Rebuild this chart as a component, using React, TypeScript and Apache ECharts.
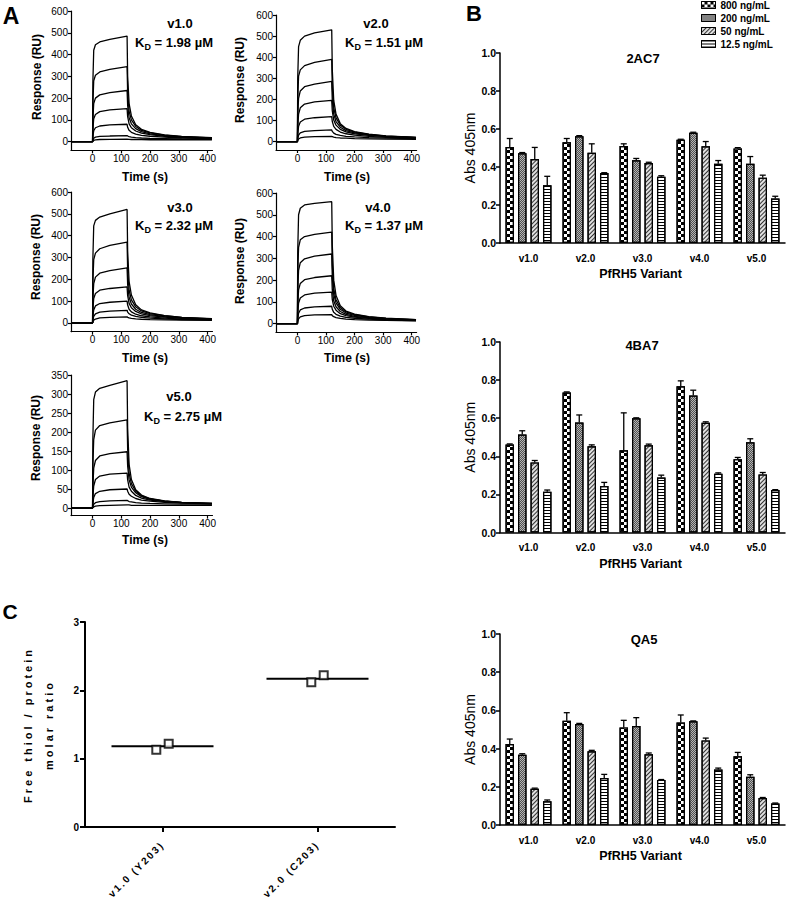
import React, { useEffect, useRef } from 'react';
import * as echarts from 'echarts';

const FONT = 'Liberation Sans, Arial, Helvetica, sans-serif';

// ---------------- Panel A : SPR sensorgrams ----------------
const SPR_TIME = [-75, 0, 1, 4, 10, 25, 60, 120, 122, 127, 135, 150, 170, 200, 250, 310, 415];

const SPR_V1 = [
  [0, 0, 270, 420, 445, 458, 470, 485, 300, 175, 118, 78, 57, 43, 31, 24, 18],
  [0, 0, 170, 280, 305, 320, 332, 345, 225, 140, 100, 70, 52, 40, 30, 23, 17],
  [0, 0, 100, 175, 200, 215, 225, 235, 165, 110, 82, 60, 46, 36, 28, 22, 16],
  [0, 0, 55, 105, 125, 138, 146, 152, 115, 82, 64, 49, 39, 32, 25, 20, 15],
  [0, 0, 25, 50, 64, 72, 77, 80, 66, 52, 43, 35, 29, 25, 21, 17, 14],
  [0, 0, 8, 16, 21, 24, 26, 28, 26, 23, 21, 19, 17, 15, 14, 13, 12],
  [0, 0, 3, 6, 8, 10, 11, 12, 11, 11, 10, 10, 10, 9, 9, 9, 9],
];
const SPR_V2 = [
  [0, 0, 300, 450, 480, 500, 515, 530, 340, 195, 130, 85, 62, 47, 35, 27, 20],
  [0, 0, 200, 310, 340, 360, 375, 390, 255, 160, 112, 78, 58, 45, 34, 26, 20],
  [0, 0, 125, 205, 240, 260, 272, 285, 195, 130, 95, 68, 52, 41, 32, 25, 19],
  [0, 0, 70, 130, 160, 178, 188, 195, 145, 102, 78, 58, 46, 37, 29, 23, 18],
  [0, 0, 35, 72, 93, 106, 113, 118, 95, 72, 58, 45, 37, 31, 25, 20, 16],
  [0, 0, 14, 30, 41, 48, 52, 55, 48, 40, 34, 29, 25, 22, 19, 16, 14],
  [0, 0, 5, 12, 17, 21, 23, 25, 23, 21, 19, 17, 16, 14, 13, 12, 11],
];
const SPR_V3 = [
  [0, 0, 290, 445, 470, 485, 500, 520, 330, 190, 128, 83, 60, 46, 34, 26, 20],
  [0, 0, 185, 290, 320, 340, 355, 370, 240, 150, 106, 74, 55, 43, 33, 25, 19],
  [0, 0, 110, 180, 210, 228, 240, 252, 175, 118, 87, 63, 48, 38, 29, 23, 17],
  [0, 0, 60, 112, 135, 150, 158, 165, 125, 90, 70, 53, 42, 34, 27, 21, 16],
  [0, 0, 30, 60, 78, 89, 95, 100, 82, 63, 51, 40, 33, 28, 22, 18, 15],
  [0, 0, 14, 30, 42, 50, 54, 58, 50, 42, 36, 30, 26, 22, 19, 16, 14],
  [0, 0, 6, 13, 18, 23, 26, 28, 26, 23, 21, 19, 17, 15, 14, 13, 12],
];
const SPR_V4 = [
  [0, 0, 330, 500, 530, 545, 552, 560, 360, 200, 130, 82, 58, 44, 32, 25, 19],
  [0, 0, 230, 350, 385, 400, 410, 420, 270, 160, 110, 74, 54, 41, 31, 24, 18],
  [0, 0, 150, 245, 280, 298, 310, 320, 215, 135, 96, 66, 49, 38, 29, 23, 17],
  [0, 0, 85, 155, 185, 202, 212, 220, 155, 105, 78, 56, 43, 34, 27, 21, 16],
  [0, 0, 45, 95, 118, 132, 140, 145, 110, 80, 62, 46, 37, 30, 24, 19, 15],
  [0, 0, 20, 48, 63, 72, 77, 80, 66, 52, 43, 35, 29, 25, 21, 17, 14],
  [0, 0, 9, 22, 31, 37, 40, 42, 37, 32, 28, 24, 21, 19, 17, 15, 13],
];
const SPR_V5 = [
  [0, 0, 180, 285, 305, 315, 323, 335, 210, 115, 75, 48, 34, 25, 19, 15, 12],
  [0, 0, 110, 180, 205, 217, 224, 232, 155, 92, 64, 44, 32, 24, 18, 15, 12],
  [0, 0, 55, 105, 125, 137, 143, 148, 110, 74, 55, 40, 30, 23, 18, 14, 12],
  [0, 0, 28, 58, 75, 84, 89, 92, 74, 55, 44, 33, 26, 21, 17, 14, 11],
  [0, 0, 12, 28, 38, 44, 48, 50, 44, 36, 31, 25, 21, 18, 15, 13, 11],
  [0, 0, 4, 10, 14, 17, 19, 20, 19, 17, 16, 14, 13, 12, 11, 10, 10],
  [0, 0, 1, 3, 5, 6, 7, 8, 8, 8, 7, 7, 7, 7, 7, 7, 7],
];
const SPR_CURVES = [SPR_V1, SPR_V2, SPR_V3, SPR_V4, SPR_V5];
const SPR_NAMES = ['v1.0', 'v2.0', 'v3.0', 'v4.0', 'v5.0'];
const SPR_KD = ['1.98', '1.51', '2.32', '1.37', '2.75'];
const SPR_Y_MIN = [-40, -40, -40, -40, -20];
const SPR_Y_MAX = [600, 600, 600, 600, 350];
const SPR_Y_TICKS = [
  [0, 100, 200, 300, 400, 500, 600],
  [0, 100, 200, 300, 400, 500, 600],
  [0, 100, 200, 300, 400, 500, 600],
  [0, 100, 200, 300, 400, 500, 600],
  [0, 50, 100, 150, 200, 250, 300, 350],
];
const SPR_X_TICKS = [0, 100, 200, 300, 400];
const SPR_X_MIN = -75;
const SPR_X_MAX = 417;

// ---------------- Panel B : ELISA ----------------
const VARIANTS = ['v1.0', 'v2.0', 'v3.0', 'v4.0', 'v5.0'];
const CONCS = ['800 ng/mL', '200 ng/mL', '50 ng/mL', '12.5 ng/mL'];

const AC7_MEAN = [
  [0.505, 0.53, 0.51, 0.543, 0.498],
  [0.472, 0.562, 0.435, 0.58, 0.417],
  [0.442, 0.475, 0.421, 0.509, 0.344],
  [0.304, 0.368, 0.349, 0.417, 0.234],
];
const AC7_ERR = [
  [0.045, 0.02, 0.012, 0.003, 0.004],
  [0.004, 0.003, 0.01, 0.003, 0.038],
  [0.061, 0.047, 0.004, 0.025, 0.013],
  [0.047, 0.002, 0.005, 0.017, 0.012],
];
const BA7_MEAN = [
  [0.462, 0.735, 0.432, 0.768, 0.385],
  [0.514, 0.577, 0.6, 0.719, 0.474],
  [0.368, 0.453, 0.458, 0.576, 0.305],
  [0.214, 0.244, 0.289, 0.308, 0.223],
];
const BA7_ERR = [
  [0.003, 0.003, 0.196, 0.028, 0.009],
  [0.02, 0.04, 0.002, 0.028, 0.018],
  [0.01, 0.007, 0.006, 0.005, 0.01],
  [0.009, 0.019, 0.012, 0.005, 0.002],
];
const QA5_MEAN = [
  [0.424, 0.546, 0.511, 0.537, 0.36],
  [0.368, 0.529, 0.518, 0.543, 0.253],
  [0.19, 0.386, 0.37, 0.443, 0.141],
  [0.124, 0.246, 0.236, 0.29, 0.112],
];
const QA5_ERR = [
  [0.026, 0.042, 0.037, 0.039, 0.02],
  [0.005, 0.003, 0.044, 0.002, 0.01],
  [0.003, 0.005, 0.007, 0.012, 0.003],
  [0.007, 0.019, 0.002, 0.008, 0.003],
];
const B_TITLES = ['2AC7', '4BA7', 'QA5'];
const B_MEANS = [AC7_MEAN, BA7_MEAN, QA5_MEAN];
const B_ERRS = [AC7_ERR, BA7_ERR, QA5_ERR];
const B_Y_TITLE = 'Abs 405nm';
const B_X_TITLE = 'PfRH5 Variant';

// ---------------- Panel C : free thiol ----------------
const C_CATS = ['v1.0 (Y203)', 'v2.0 (C203)'];
const C_POINTS = [
  [1.13, 1.22],
  [2.12, 2.22],
];
const C_MEAN = [1.18, 2.17];
const C_Y_TITLE = ['Free thiol / protein', 'molar ratio'];

// ---------------- layout (positions / styles) ----------------
const A_GRIDS = [
  { left: 71, top: 11, width: 141.5, height: 139.4 },
  { left: 276, top: 15, width: 140.6, height: 135 },
  { left: 71, top: 192, width: 141.5, height: 139.7 },
  { left: 276, top: 193, width: 140.6, height: 139.4 },
  { left: 71, top: 375, width: 141.5, height: 140.6 },
];
const A_TITLE_POS = [
  [180, 23, 174, 42],
  [376, 23, 384, 42],
  [180, 207, 174, 225],
  [378, 207, 384, 225],
  [179, 396, 183, 416],
];
const A_YTITLE_POS = [[37, 77], [240, 80], [36, 257], [240, 261], [36, 438]];
const A_XTITLE_POS = [[145, 177], [347, 177], [145, 358], [347, 358], [145, 540]];

const B_GRIDS = [
  { left: 500, top: 53, width: 285, height: 190 },
  { left: 500, top: 342, width: 285, height: 190.5 },
  { left: 500, top: 634, width: 285, height: 191 },
];
const B_TITLE_POS = [[643, 58], [642, 345], [644, 639]];
const BAR_W = 8.5;
const BAR_GAP = 0.47;

const C_GRID = { left: 85, top: 622, width: 310, height: 205 };
const C_JITTER = [-0.04, 0.04];

const DECAL_BG = ['#ffffff', '#b4b4b4', '#e0e0e0', '#ffffff'];
const DECALS: any[] = [
  { symbol: 'rect', symbolSize: 1, color: '#000', backgroundColor: '#fff', dashArrayX: [[3, 3], [0, 3, 3, 0]], dashArrayY: [3, 0], rotation: 0 },
  { symbol: 'rect', symbolSize: 1, color: '#505050', backgroundColor: '#b4b4b4', dashArrayX: [[1, 1], [0, 1, 1, 0]], dashArrayY: [1, 0], rotation: 0 },
  { symbol: 'rect', symbolSize: 1, color: '#333', backgroundColor: '#e0e0e0', dashArrayX: [1, 0], dashArrayY: [1, 2], rotation: -Math.PI / 4 },
  { symbol: 'rect', symbolSize: 1, color: '#000', backgroundColor: '#fff', dashArrayX: [1, 0], dashArrayY: [1, 2], rotation: 0 },
];

const SPACED: Record<string, number> = {
  'Free thiol / protein': 3,
  'molar ratio': 3,
  'v1.0 (Y203)': 2,
  'v2.0 (C203)': 2,
};

function txt(x: number, y: number, text: string, size: number, bold = true, extra: any = {}) {
  return {
    type: 'text',
    x,
    y,
    silent: true,
    ...extra,
    style: {
      text,
      fontSize: size,
      fontWeight: bold ? 'bold' : 'normal',
      fontFamily: FONT,
      fill: '#000',
      textAlign: 'center',
      textVerticalAlign: 'middle',
      ...(extra.style || {}),
    },
  };
}

function buildOption() {
  const grid: any[] = [];
  const xAxis: any[] = [];
  const yAxis: any[] = [];
  const series: any[] = [];
  const graphic: any[] = [];

  // ----- A -----
  A_GRIDS.forEach((g, i) => {
    grid.push({ ...g });
    const line = { lineStyle: { color: '#000', width: 1.2 } };
    xAxis.push({
      type: 'value', gridIndex: i, min: SPR_X_MIN, max: SPR_X_MAX,
      axisLine: { show: true, onZero: false, ...line },
      axisTick: { show: true, length: 3, customValues: SPR_X_TICKS, ...line },
      axisLabel: { customValues: SPR_X_TICKS, fontSize: 10, color: '#000', fontFamily: FONT, margin: 3 },
      splitLine: { show: false },
    });
    yAxis.push({
      type: 'value', gridIndex: i, min: SPR_Y_MIN[i], max: SPR_Y_MAX[i],
      axisLine: { show: true, onZero: false, ...line },
      axisTick: { show: true, length: 3, customValues: SPR_Y_TICKS[i], ...line },
      axisLabel: { customValues: SPR_Y_TICKS[i], fontSize: 10, color: '#000', fontFamily: FONT, margin: 3 },
      splitLine: { show: false },
    });
    SPR_CURVES[i].forEach((curve) => {
      series.push({
        type: 'line', xAxisIndex: i, yAxisIndex: i, silent: true, symbol: 'none', showSymbol: false,
        data: SPR_TIME.map((t, k) => [t, curve[k]]),
        lineStyle: { color: '#000', width: 1.3 },
      });
    });
    const p = A_TITLE_POS[i];
    graphic.push(txt(p[0], p[1], SPR_NAMES[i], 13));
    graphic.push({
      type: 'text', x: p[2], y: p[3], silent: true,
      style: {
        text: `{k|K}{d|D}{k| = ${SPR_KD[i]} µM}`,
        textAlign: 'center', textVerticalAlign: 'middle',
        rich: {
          k: { fontSize: 13, fontWeight: 'bold', fontFamily: FONT, fill: '#000', lineHeight: 18, verticalAlign: 'middle' },
          d: { fontSize: 9, fontWeight: 'bold', fontFamily: FONT, fill: '#000', lineHeight: 18, verticalAlign: 'bottom' },
        },
      },
    });
    graphic.push(txt(A_YTITLE_POS[i][0], A_YTITLE_POS[i][1], 'Response (RU)', 12, true, { rotation: Math.PI / 2 }));
    graphic.push(txt(A_XTITLE_POS[i][0], A_XTITLE_POS[i][1], 'Time (s)', 12));
  });

  // ----- B -----
  const pitch = BAR_W * (1 + BAR_GAP);
  B_GRIDS.forEach((g, bi) => {
    const gi = 5 + bi;
    grid.push({ ...g });
    const line = { lineStyle: { color: '#000', width: 1.5 } };
    xAxis.push({
      type: 'category', gridIndex: gi, data: VARIANTS,
      axisLine: { show: true, onZero: false, ...line },
      axisTick: { show: false },
      axisLabel: { fontSize: 10, fontWeight: 'bold', color: '#000', fontFamily: FONT, margin: 10 },
    });
    yAxis.push({
      type: 'value', gridIndex: gi, min: 0, max: 1, interval: 0.2,
      axisLine: { show: true, onZero: false, ...line },
      axisTick: { show: true, length: 4, ...line },
      axisLabel: { fontSize: 10.5, fontWeight: 'bold', color: '#000', fontFamily: FONT, margin: 4, formatter: (v: number) => v.toFixed(1) },
      splitLine: { show: false },
    });
    CONCS.forEach((c, ci) => {
      series.push({
        type: 'bar', name: c, xAxisIndex: gi, yAxisIndex: gi, silent: true,
        data: B_MEANS[bi][ci], barWidth: BAR_W, barGap: `${BAR_GAP * 100}%`,
        itemStyle: { color: DECAL_BG[ci], borderColor: '#000', borderWidth: 1.2, decal: DECALS[ci] },
      });
    });
    const eb: number[][] = [];
    CONCS.forEach((_c, ci) => B_MEANS[bi][ci].forEach((m, vi) => eb.push([vi, m, B_ERRS[bi][ci][vi], ci])));
    series.push({
      type: 'custom', xAxisIndex: gi, yAxisIndex: gi, silent: true, z: 5,
      data: eb, encode: { x: 0, y: 1 },
      renderItem: (_p: any, api: any) => {
        const cat = api.value(0), m = api.value(1), e = api.value(2), si = api.value(3);
        const a = api.coord([cat, m]);
        const b = api.coord([cat, m + e]);
        const x = a[0] + (si - 1.5) * pitch;
        const st = { stroke: '#000', lineWidth: 1.3 };
        return {
          type: 'group',
          children: [
            { type: 'line', shape: { x1: x, y1: a[1], x2: x, y2: b[1] }, style: st },
            { type: 'line', shape: { x1: x - 3, y1: b[1], x2: x + 3, y2: b[1] }, style: st },
          ],
        };
      },
    });
    graphic.push(txt(B_TITLE_POS[bi][0], B_TITLE_POS[bi][1], B_TITLES[bi], 13));
    graphic.push(txt(470, g.top + g.height / 2, B_Y_TITLE, 14, false, { rotation: Math.PI / 2 }));
    graphic.push(txt(g.left + g.width / 2 - 2, g.top + g.height + 31, B_X_TITLE, 12.5));
  });

  // ----- C -----
  const ci = 8;
  grid.push({ ...C_GRID });
  const cl = { lineStyle: { color: '#000', width: 2 } };
  xAxis.push({
    type: 'value', gridIndex: ci, min: -0.5, max: 1.5,
    axisLine: { show: true, onZero: false, ...cl },
    axisTick: { show: true, length: 5, customValues: [0, 1], ...cl },
    axisLabel: {
      customValues: [0, 1], rotate: 45, margin: 16, fontSize: 10, fontWeight: 'bold', color: '#000', fontFamily: FONT,
      formatter: (v: number) => C_CATS[Math.round(v)] || '',
    },
    splitLine: { show: false },
  });
  yAxis.push({
    type: 'value', gridIndex: ci, min: 0, max: 3, interval: 1,
    axisLine: { show: true, onZero: false, ...cl },
    axisTick: { show: true, length: 5, ...cl },
    axisLabel: { fontSize: 10, fontWeight: 'bold', color: '#000', fontFamily: FONT, margin: 6 },
    splitLine: { show: false },
  });
  series.push({
    type: 'custom', xAxisIndex: ci, yAxisIndex: ci, silent: true, z: 2,
    data: C_MEAN.map((m, i) => [i, m]), encode: { x: 0, y: 1 },
    renderItem: (_p: any, api: any) => {
      const a = api.coord([api.value(0), api.value(1)]);
      return { type: 'line', shape: { x1: a[0] - 51, y1: a[1], x2: a[0] + 51, y2: a[1] }, style: { stroke: '#000', lineWidth: 2 } };
    },
  });
  const pts: number[][] = [];
  C_POINTS.forEach((arr, i) => arr.forEach((v, j) => pts.push([i + C_JITTER[j], v])));
  series.push({
    type: 'scatter', xAxisIndex: ci, yAxisIndex: ci, silent: true, z: 4,
    data: pts, symbol: 'rect', symbolSize: 8,
    itemStyle: { color: '#fff', borderColor: '#000', borderWidth: 2 },
  });
  graphic.push(txt(28, 725, C_Y_TITLE[0], 11, true, { rotation: Math.PI / 2 }));
  graphic.push(txt(49, 725, C_Y_TITLE[1], 11, true, { rotation: Math.PI / 2 }));

  // panel letters
  graphic.push(txt(11, 16, 'A', 23));
  graphic.push(txt(474, 13, 'B', 22));
  graphic.push(txt(10, 611, 'C', 21));

  return {
    animation: false,
    backgroundColor: '#fff',
    textStyle: { fontFamily: FONT },
    legend: {
      data: CONCS, orient: 'vertical', left: 701, top: 0, padding: 0,
      itemWidth: 14, itemHeight: 7, itemGap: 3, icon: 'rect', selectedMode: false,
      textStyle: { fontSize: 10, fontWeight: 'bold', color: '#000', fontFamily: FONT },
      itemStyle: { borderColor: '#000', borderWidth: 1 },
    },
    grid, xAxis, yAxis, series, graphic,
  };
}

export default function App() {
  const ref = useRef<HTMLDivElement>(null);
  useEffect(() => {
    if (!ref.current) return;
    const chart = echarts.init(ref.current, undefined, { renderer: 'svg' });
    chart.setOption(buildOption() as any);
    const applySpacing = () => {
      ref.current?.querySelectorAll('text').forEach((t) => {
        const s = (t.textContent || '').trim();
        if (SPACED[s] != null) {
          t.setAttribute('letter-spacing', String(SPACED[s]));
          t.setAttribute('fill', '#000');
          (t as any).style.fill = '#000';
        }
      });
    };
    applySpacing();
    chart.on('finished', applySpacing);
    return () => chart.dispose();
  }, []);
  return (
    <div
      ref={ref}
      style={{ position: 'fixed', left: 0, top: 0, width: 787, height: 905, background: '#fff' }}
    />
  );
}
